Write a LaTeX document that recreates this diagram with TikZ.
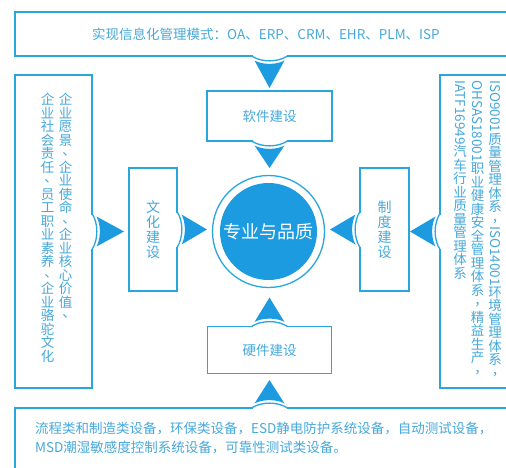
\documentclass[tikz,border=0pt]{standalone}
\usepackage{fontspec}
\usepackage{graphicx}
\setmainfont{Noto Sans CJK SC}
\usetikzlibrary{positioning}
\definecolor{lineblue}{HTML}{2AA6DE}
\definecolor{fillblue}{HTML}{1C9BE1}
\definecolor{textblue}{HTML}{46A8DA}
\tikzset{
  box/.style={draw=lineblue, line width=1.5pt, rectangle, inner sep=0pt, outer sep=0pt, text=textblue, font=\fontsize{13.5}{16}\selectfont},
  vtext/.style={align=center, inner sep=0pt, anchor=north, text=textblue, font=\fontsize{13.5}{13.5}\selectfont},
}
% latin run set sideways in a vertical column
\newcommand{\lat}[1]{\rotatebox[origin=c]{-90}{#1}}
% punctuation moved to the right, as in vertical setting
\newcommand{\vp}[1]{\makebox[1em][l]{\kern.27em\raisebox{.2em}{#1}}}
% arrow with notched base: edge point, angle, length
\newcommand{\notchtip}[3]{%
  \begin{scope}[shift={(#1)}, rotate=#2]
    \fill[white] (-17,-1.4) rectangle (17,1.4);
    \draw[lineblue, line width=1.3pt] (-18,0) .. controls (-8,6.5) and (8,6.5) .. (18,0);
    \fill[fillblue] (-15,4.5) .. controls (-7,9) and (7,9) .. (15,4.5) -- (0,#3) -- cycle;
  \end{scope}}
\begin{document}
\begin{tikzpicture}[x=1pt,y=-1pt]
\useasboundingbox (0,0) rectangle (506,468);
% outer boxes
\node[box, minimum width=502pt, minimum height=44pt] (top) at (266,34) {实现信息化管理模式：OA、ERP、CRM、EHR、PLM、ISP};
\node[box, minimum width=77pt, minimum height=313pt] (left) at (53.5,231.5) {};
\node[box, minimum width=77pt, minimum height=313pt] (iso) at (478.5,231.5) {};
\node[box, minimum width=502pt, minimum height=70pt] (bot) at (266,443) {};
% inner boxes
\node[box, minimum width=125pt, minimum height=50pt] (soft) at (269.5,116) {软件建设};
\node[box, minimum width=124pt, minimum height=47pt] (hard) at (269.5,350) {硬件建设};
\node[box, minimum width=48pt, minimum height=123pt, align=center, font=\fontsize{14}{15}\selectfont] (cult) at (153,229.5) {文\\化\\建\\设};
\node[box, minimum width=49pt, minimum height=123pt, align=center, font=\fontsize{14}{15}\selectfont] (rule) at (384.5,229.5) {制\\度\\建\\设};
% centre
\node[circle, fill=fillblue, minimum size=97pt, inner sep=0pt, text=white, font=\fontsize{18}{20}\selectfont] (core) at (268.5,231.5) {专业与品质};
\node[circle, draw=lineblue, line width=1.3pt, minimum size=112pt, inner sep=0pt] (ring) at (core) {};
% texts in the side boxes
\node[vtext] (goal) at (65.5,93) {企\\业\\愿\\景\\\vp{、}\\企\\业\\使\\命\\\vp{、}\\企\\业\\核\\心\\价\\值\\\vp{、}};
\node[vtext] (duty) at (47.5,93) {企\\业\\社\\会\\责\\任\\\vp{、}\\员\\工\\职\\业\\素\\养\\\vp{、}\\企\\业\\骆\\驼\\文\\化};
\node[vtext] (iso9) at (495,80) {\lat{ISO9001}\\质\\量\\管\\理\\体\\系\\\vp{，}\\\lat{ISO14001}\\环\\境\\管\\理\\体\\系\\\vp{，}};
\node[vtext] (ohsas) at (477.5,80) {\lat{OHSAS18001}\\职\\业\\健\\康\\安\\全\\管\\理\\体\\系\\\vp{，}\\精\\益\\生\\产\\\vp{，}};
\node[vtext] (iatf) at (460,80) {\lat{IATF16949}\\汽\\车\\行\\业\\质\\量\\管\\理\\体\\系};
\node[anchor=north west, align=left, inner sep=0pt, text=textblue, font=\fontsize{13.5}{19}\selectfont] (gear) at (35,422) {流程类和制造类设备，环保类设备，ESD静电防护系统设备，自动测试设备，\\MSD潮湿敏感度控制系统设备，可靠性测试类设备。};
% arrows
\notchtip{soft |- top.south}{0}{32}
\notchtip{soft.south}{0}{27}
\notchtip{cult.east}{90}{30}
\notchtip{rule.west}{-90}{30}
\notchtip{hard.north}{180}{29}
\notchtip{hard |- bot.north}{180}{28}
\notchtip{left.east |- core}{90}{32}
\notchtip{iso.west |- core}{-90}{30}
\end{tikzpicture}
\end{document}
